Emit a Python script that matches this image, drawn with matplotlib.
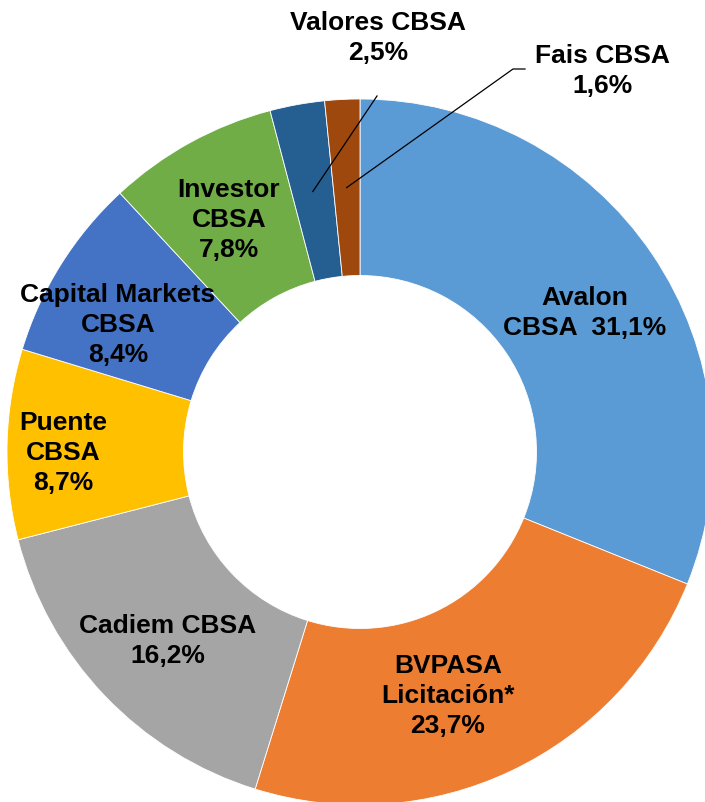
import numpy as np
import matplotlib
matplotlib.use("Agg")
import matplotlib.pyplot as plt

plt.rcParams['font.family'] = ['Liberation Sans', 'DejaVu Sans']

# Data
names = ["Avalon\nCBSA  31,1%", "BVPASA\nLicitación*\n23,7%", "Cadiem CBSA\n16,2%",
         "Puente\nCBSA\n8,7%", "Capital Markets\nCBSA\n8,4%", "Investor\nCBSA\n7,8%",
         "Valores CBSA\n2,5%", "Fais CBSA\n1,6%"]
shares = [31.1, 23.7, 16.2, 8.7, 8.4, 7.8, 2.5, 1.6]
colors = ["#5B9BD5", "#ED7D31", "#A5A5A5", "#FFC000", "#4472C4", "#70AD47", "#255E91", "#9E480E"]

# label centres in pixels (image coords) and leader-line anchors
W, H = 705, 803
CX, CY, R = 360, 453, 353
label_px = [(585, 313), (448, 696), (168, 641), (63, 453), (118, 325),
            (229, 220), (378, 38), (602, 71)]
leader_px = {6: [(377, 97)], 7: [(525, 70), (513, 70)]}


def px(x, y):
    return (x - CX) / R, (CY - y) / R


fig = plt.figure(figsize=(W / 100, H / 100), dpi=100)
ax = fig.add_axes([0, 0, 1, 1])

wedges, _ = ax.pie(shares, colors=colors, startangle=90, counterclock=False,
                   radius=1.0, wedgeprops=dict(width=0.5, edgecolor="white", linewidth=0.6))
ax.set_aspect("auto")
ax.set_xlim(-CX / R, (W - CX) / R)
ax.set_ylim(-(H - CY) / R, CY / R)
ax.axis("off")

for i, (name, (lx, ly)) in enumerate(zip(names, label_px)):
    x, y = px(lx, ly)
    ax.text(x, y, name, ha="center", va="center", fontsize=19, fontweight="bold",
            multialignment="center", linespacing=1.3)

# leader lines for the two small slices
for i, pts in leader_px.items():
    w = wedges[i]
    mid = np.deg2rad((w.theta1 + w.theta2) / 2)
    start = (0.75 * np.cos(mid), 0.75 * np.sin(mid))
    xs = [px(*p)[0] for p in pts] + [start[0]]
    ys = [px(*p)[1] for p in pts] + [start[1]]
    ax.plot(xs, ys, color="black", lw=0.9)

fig.savefig("out.png", dpi=100)
